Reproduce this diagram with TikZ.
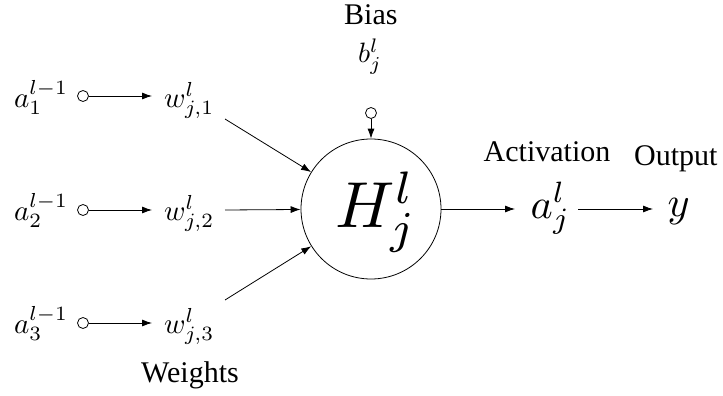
\documentclass[tikz,border=0pt]{standalone}
\usepackage[no-math]{fontspec}
\setmainfont{Liberation Serif}
\usetikzlibrary{arrows.meta}
\begin{document}
\begin{tikzpicture}[x=1pt,y=-1pt,
  line width=0.8pt,
  >={Latex[length=10pt,width=7pt]},
  base/.style={font=\fontsize{10}{12}\selectfont, inner sep=0pt, anchor=base west},
  txt/.style={base, scale=3},
  inmath/.style={base, scale=2.9},
  biasmath/.style={base, scale=2.8},
  outmath/.style={base, scale=4.2},
  bigmath/.style={base, scale=6.5},
  dot/.style={circle, draw, minimum size=11pt, inner sep=0pt},
  neuron/.style={circle, draw, minimum size=140pt, inner sep=0pt}]
\useasboundingbox (0,0) rectangle (723,396);

% inputs
\node[inmath] (a1) at (13,107) {$a_1^{l-1}$};
\node[inmath] (a2) at (13,220) {$a_2^{l-1}$};
\node[inmath] (a3) at (13,333) {$a_3^{l-1}$};
\node[dot] (c1) at (83,96) {};
\node[dot] (c2) at (83,210) {};
\node[dot] (c3) at (83,323) {};
\node[inmath] (w1) at (163,107) {$w_{j,1}^{l}$};
\node[inmath] (w2) at (163,220) {$w_{j,2}^{l}$};
\node[inmath] (w3) at (163,333) {$w_{j,3}^{l}$};
\coordinate (t1) at (152,96);
\coordinate (t2) at (152,210);
\coordinate (t3) at (152,323);
\coordinate (e1) at (225,119);
\coordinate (e2) at (225,210);
\coordinate (e3) at (225,300);

% neuron
\node[neuron] (H) at (371,209) {};
\node[bigmath] (Ht) at (333,227) {$H_j^l$};

% bias
\node[txt] (bias) at (343,25) {Bias};
\node[biasmath] (b) at (357,63) {$b_j^l$};
\node[dot] (cb) at (371,113) {};

% output
\node[txt, anchor=base] (act) at (547,161) {Activation};
\node[txt] (out) at (633,165) {Output};
\node[outmath] (aj) at (529,218) {$a_j^l$};
\node[outmath] (y) at (666,216) {$y$};
\coordinate (o1) at (515,209);
\coordinate (o2) at (578,209);
\coordinate (o3) at (653,209);

\node[txt] (weights) at (140,382) {Weights};

% connectors
\draw[->] (c1) -- (t1);
\draw[->] (c2) -- (t2);
\draw[->] (c3) -- (t3);
\draw[->] (e1) -- (H);
\draw[->] (e2) -- (H);
\draw[->] (e3) -- (H);
\draw[->] (cb) -- (H);
\draw[->] (H) -- (o1);
\draw[->] (o2) -- (o3);
\end{tikzpicture}
\end{document}
